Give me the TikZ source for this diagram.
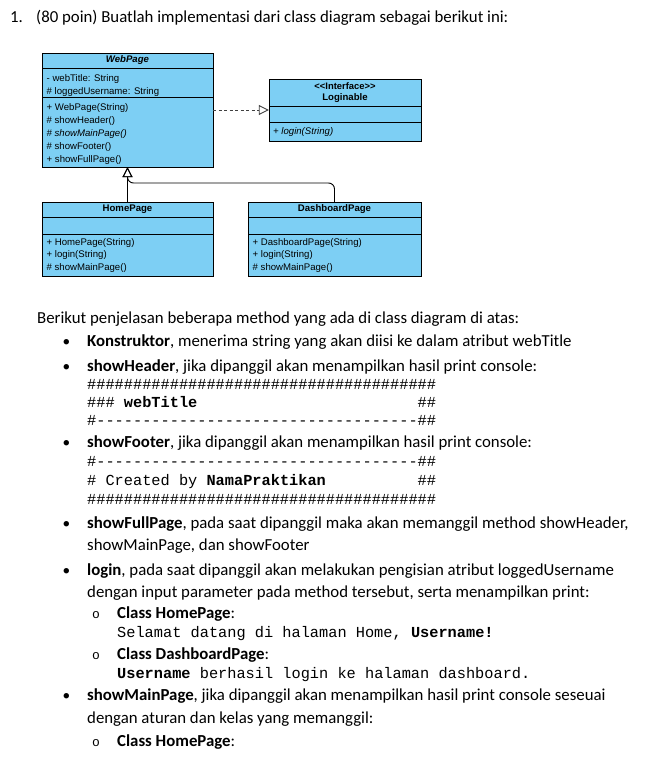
\documentclass[tikz,border=0pt]{standalone}
\usepackage{fontspec}
\setmainfont{Carlito}
\setmonofont{Liberation Mono}
\newfontfamily\umlfont{Liberation Sans}
\usetikzlibrary{arrows.meta,fit}
\definecolor{umlblue}{HTML}{7DCFF4}
\newcommand{\rowof}[2]{\foreach \k in {1,...,#1}{#2}}
\begin{document}
\begin{tikzpicture}[x=1pt, y=-1pt,
    cls/.style = {rectangle, draw=black, line width=0.9pt, fill=umlblue, inner sep=0pt, outer sep=0pt, anchor=north, font=\umlfont\fontsize{9.6}{11}\selectfont},
    member/.style = {anchor=base west, inner sep=0pt, font=\umlfont\fontsize{9.6}{11}\selectfont},
    body/.style = {anchor=base west, inner sep=0pt, font=\fontsize{16.8}{20}\selectfont},
    bul/.style = {anchor=base, inner sep=0pt, font=\fontsize{15.3}{18}\selectfont},
    subbul/.style = {anchor=base, inner sep=0pt, font=\ttfamily\fontsize{13}{16}\selectfont},
    code/.style = {anchor=base west, inner sep=0pt, font=\ttfamily\fontsize{15.3}{18}\selectfont},
    real/.style = {draw=black!75, line width=0.9pt, dash pattern=on 3pt off 2.5pt, -{Triangle[open,length=10pt,width=10pt]}},
    gen/.style = {draw=black, line width=0.9pt, -{Triangle[open,length=10pt,width=10pt]}}]
\useasboundingbox (0,0) rectangle (661,760);
% class WebPage
\node[cls, minimum width=171, minimum height=15] (web-h) at (127.5,53) {\textbf{\textit{WebPage}}};
\node[cls, minimum width=171, minimum height=29] (web-a) at (web-h.south) {};
\node[cls, minimum width=171, minimum height=70] (web-m) at (web-a.south) {};
\node[fit=(web-h)(web-m), inner sep=0pt] (web) {};
\foreach \t [count=\j from 0] in {{- webTitle: String}, {\# loggedUsername: String}}
    \node[member] (web-a\j) at ([shift={(4.5,13.5+13*\j)}]web-a.north west) {\t};
\foreach \t [count=\j from 0] in {{+ WebPage(String)}, {\# showHeader()}, {\textit{\# showMainPage()}}, {\# showFooter()}, {+ showFullPage()}}
    \node[member] (web-m\j) at ([shift={(4.5,13+13.2*\j)}]web-m.north west) {\t};
% interface Loginable
\node[cls, minimum width=152, minimum height=27, align=center] (login-h) at (345,79) {{\fontsize{9.4}{10}\selectfont\textbf{<\kern0pt<Interface>\kern0pt>}}\\\textbf{Loginable}};
\node[cls, minimum width=152, minimum height=16] (login-e) at (login-h.south) {};
\node[cls, minimum width=152, minimum height=19] (login-m) at (login-e.south) {};
\node[fit=(login-h)(login-m), inner sep=0pt] (login) {};
\node[member] (login-m0) at ([shift={(4,12)}]login-m.north west) {\textit{+ login(String)}};
% class HomePage
\node[cls, minimum width=171, minimum height=15] (home-h) at (127.5,202) {\textbf{HomePage}};
\node[cls, minimum width=171, minimum height=17] (home-e) at (home-h.south) {};
\node[cls, minimum width=171, minimum height=42] (home-m) at (home-e.south) {};
\foreach \t [count=\j from 0] in {{+ HomePage(String)}, {+ login(String)}, {\# showMainPage()}}
    \node[member] (home-m\j) at ([shift={(4.5,11+12.8*\j)}]home-m.north west) {\t};
% class DashboardPage
\node[cls, minimum width=173, minimum height=15] (dash-h) at (334.5,202) {\textbf{DashboardPage}};
\node[cls, minimum width=173, minimum height=17] (dash-e) at (dash-h.south) {};
\node[cls, minimum width=173, minimum height=42] (dash-m) at (dash-e.south) {};
\foreach \t [count=\j from 0] in {{+ DashboardPage(String)}, {+ login(String)}, {\# showMainPage()}}
    \node[member] (dash-m\j) at ([shift={(4.5,11+12.8*\j)}]dash-m.north west) {\t};
% relations
\draw[real] (web) -- (login);
\draw[gen] (home-h) -- (web);
\draw[gen, rounded corners=6pt] (dash-h.north) -- ++(0,-19) -| (web.south);
% text below
\foreach \ypos/\xpos/\txt [count=\j] in {
    23/10/{1.},
    23/36/{(80 poin) Buatlah implementasi dari class diagram sebagai berikut ini:},
    323/37/{Berikut penjelasan beberapa method yang ada di class diagram di atas:},
    346/87/{\textbf{Konstruktor}, menerima string yang akan diisi ke dalam atribut webTitle},
    371/87/{\textbf{showHeader}, jika dipanggil akan menampilkan hasil print console:},
    447/87/{\textbf{showFooter}, jika dipanggil akan menampilkan hasil print console:},
    528/87/{\textbf{showFullPage}, pada saat dipanggil maka akan memanggil method showHeader,},
    550/87/{showMainPage, dan showFooter},
    575/87/{\textbf{login}, pada saat dipanggil akan melakukan pengisian atribut loggedUsername},
    597/87/{dengan input parameter pada method tersebut, serta menampilkan print:},
    618/117/{\textbf{Class HomePage}:},
    659/117/{\textbf{Class DashboardPage}:},
    700/87/{\textbf{showMainPage}, jika dipanggil akan menampilkan hasil print console seseuai},
    723/87/{dengan aturan dan kelas yang memanggil:},
    746/117/{\textbf{Class HomePage}:}}
    \node[body] (text\j) at (\xpos,\ypos) {\txt};
\foreach \ypos [count=\j] in {346,371,447,528,575,700}
    \node[bul] (bullet\j) at (66.5,\ypos) {•};
\foreach \ypos [count=\j] in {618,659,746}
    \node[subbul] (circle\j) at (96,\ypos) {o};
% console output
\foreach \ypos/\xpos/\txt [count=\j] in {
    389/87/{\rowof{38}{\#}},
    407/87/{\#\#\#~\textbf{webTitle}\rowof{24}{~}\#\#},
    425/87/{\#\rowof{35}{-}\#\#},
    466/87/{\#\rowof{35}{-}\#\#},
    485/87/{\#~Created~by~\textbf{NamaPraktikan}\rowof{10}{~}\#\#},
    504/87/{\rowof{38}{\#}},
    637/117/{Selamat datang di halaman Home, \textbf{Username!}},
    678/117/{\textbf{Username} berhasil login ke halaman dashboard.}}
    \node[code] (console\j) at (\xpos,\ypos) {\txt};
\end{tikzpicture}
\end{document}
